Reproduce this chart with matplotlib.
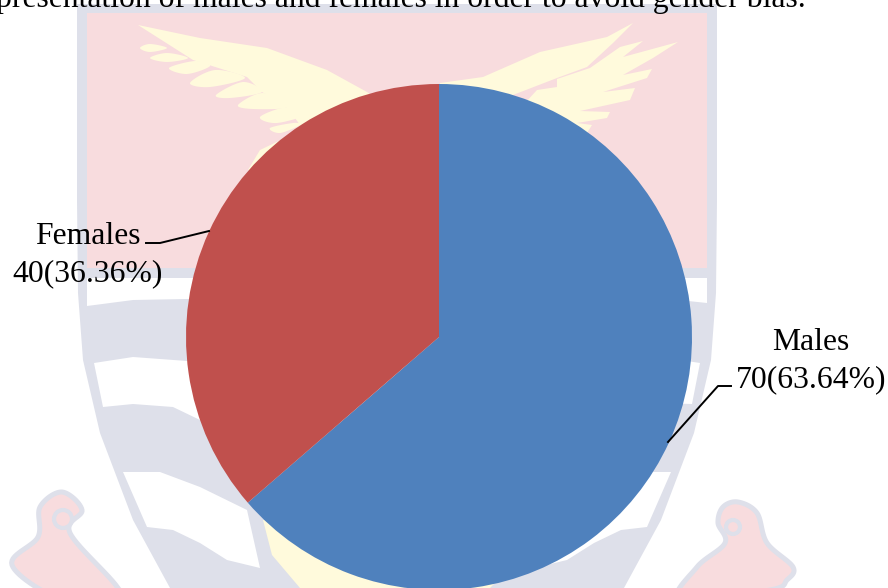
import numpy as np
import matplotlib
matplotlib.use("Agg")
import matplotlib.pyplot as plt
from matplotlib.patches import Polygon, Rectangle, Circle

categories = ["Males", "Females"]
values = [70, 40]
labels = ["70(63.64%)", "40(36.36%)"]
colors = ["#4F81BD", "#C0504D"]
caption = "presentation of males and females in order to avoid gender bias."

W, H = 888, 588
GRAY, PINK, CREAM = "#DEE0EA", "#F8DCDE", "#FFFADC"
CX = 397


def smooth(pts, closed=True, n=14):
    """Catmull-Rom sampling of a decorative outline."""
    p = np.array(pts, float)
    if closed:
        p = np.vstack([p[-1], p, p[0], p[1]])
    else:
        p = np.vstack([p[0], p, p[-1]])
    out = []
    for i in range(1, len(p) - 2):
        t = np.linspace(0, 1, n, endpoint=False)[:, None]
        a, b, c, d = p[i-1], p[i], p[i+1], p[i+2]
        out.append(0.5 * (2*b + (c-a)*t + (2*a-5*b+4*c-d)*t**2 + (3*b-a-3*c+d)*t**3))
    return np.vstack(out)


def mirror(pts):
    return [(2*CX - x, y) for x, y in pts]


fig = plt.figure(figsize=(W/100, H/100), dpi=100, facecolor="white")
bg = fig.add_axes([0, 0, 1, 1])
bg.set_xlim(0, W); bg.set_ylim(H, 0); bg.axis("off")

# watermark: shield
left_edge = [(77, 4), (77, 200), (78, 293), (83, 360), (100, 433), (133, 520), (170, 588)]
shield = list(left_edge) + mirror(left_edge)[::-1]
bg.add_patch(Polygon(shield, closed=True, fc=GRAY, ec="none"))
bg.add_patch(Rectangle((87, 13), 620, 255, fc=PINK, ec="none"))

# watermark: white bands of the shield
bg.add_patch(Polygon([(87, 278), (707, 278), (707, 303), (660, 298), (397, 295),
                      (133, 300), (87, 306)], closed=True, fc="white", ec="none"))
bg.add_patch(Polygon([(94, 363), (133, 357), (187, 361), (397, 365), (607, 361), (661, 357),
                      (700, 363), (692, 404), (660, 403), (594, 420), (397, 425), (200, 420),
                      (173, 407), (133, 404), (103, 407)], closed=True, fc="white", ec="none"))
band3 = [(123, 472), (160, 472), (200, 487), (247, 510), (260, 568), (227, 560),
         (200, 543), (173, 530), (147, 527)]
bg.add_patch(Polygon(band3, closed=True, fc="white", ec="none"))
bg.add_patch(Polygon(mirror(band3), closed=True, fc="white", ec="none"))

# watermark: yellow centre piece
bg.add_patch(Polygon([(263, 520), (272, 555), (300, 588), (490, 588), (522, 555), (531, 520)],
                     closed=True, fc=CREAM, ec="none"))

# watermark: wings
left_wing = [(138, 25), (200, 38), (267, 48), (327, 70), (367, 92), (420, 130), (300, 170),
             (248, 170), (260, 150), (287, 137), (300, 125), (287, 107), (262, 92),
             (247, 77), (193, 60)]
bg.add_patch(Polygon(left_wing, closed=True, fc=CREAM, ec="none"))
feathers = [
    [(140, 48), (150, 44), (167, 48), (150, 52)],
    [(150, 58), (167, 53), (188, 58), (167, 62)],
    [(169, 68), (195, 61), (210, 66), (187, 74)],
    [(190, 83), (215, 70), (245, 78), (210, 87)],
    [(216, 95), (243, 82), (262, 92), (230, 98)],
    [(238, 105), (263, 93), (287, 107), (253, 109)],
    [(260, 117), (287, 107), (310, 113), (277, 123)],
    [(270, 128), (293, 123), (300, 125), (280, 133)],
]
for f in feathers:
    bg.add_patch(Polygon(smooth(f), closed=True, fc=CREAM, ec="none"))
right_upper = [(440, 83), (483, 77), (540, 52), (607, 37), (633, 23), (613, 43), (587, 67),
               (557, 78), (500, 100), (440, 110)]
right_lower = [(537, 90), (557, 87), (557, 79), (590, 68), (620, 47), (643, 41), (623, 57),
               (678, 42), (653, 58), (623, 75), (652, 69), (647, 78), (603, 92), (635, 88),
               (630, 100), (580, 111), (610, 112), (607, 118), (577, 123), (592, 125),
               (587, 133), (500, 130)]
bg.add_patch(Polygon(right_upper, closed=True, fc=CREAM, ec="none"))
bg.add_patch(Polygon(right_lower, closed=True, fc=CREAM, ec="none"))

# watermark: scrolls (they run on past the lower edge)
scroll_l = [(12, 565), (38, 537), (40, 507), (62, 492), (82, 510), (70, 533), (118, 588),
            (130, 620), (60, 600)]
scroll_r = [(718, 523), (723, 507), (738, 502), (757, 513), (767, 543), (793, 567), (787, 580),
            (770, 590), (680, 600), (697, 567), (725, 543)]
for s in (scroll_l, scroll_r):
    bg.add_patch(Polygon(smooth(s), closed=True, fc=PINK, ec=GRAY, lw=3.6))
bg.add_patch(Circle((63, 519), 9, fc=PINK, ec=GRAY, lw=3))
bg.add_patch(Circle((733, 527), 7, fc=PINK, ec=GRAY, lw=3))

# pie: centre (439, 337), radius 253 px
cx, cy, r = 439, 337, 253
ax = fig.add_axes([(cx-r)/W, 1-(cy+r)/H, 2*r/W, 2*r/H])
ax.pie(values, colors=colors, startangle=90, counterclock=False, radius=1,
       wedgeprops=dict(linewidth=0))
ax.set_xlim(-1, 1); ax.set_ylim(-1, 1)
ax.set_aspect("equal"); ax.axis("off")
ax.patch.set_alpha(0)

font = dict(family="Liberation Serif", fontsize=22.8, color="black")
ov = fig.add_axes([0, 0, 1, 1]); ov.set_xlim(0, W); ov.set_ylim(H, 0); ov.axis("off")
ov.patch.set_alpha(0)
ov.text(811, 350, categories[0], ha="center", va="baseline", **font)
ov.text(811, 387, labels[0], ha="center", va="baseline", **font)
ov.text(88, 244, categories[1], ha="center", va="baseline", **font)
ov.text(88, 281, labels[1], ha="center", va="baseline", **font)
ov.plot([668, 718, 731], [442, 386, 386], color="black", lw=1.4)
ov.plot([146, 160, 209], [243, 243, 231], color="black", lw=1.4)
ov.text(806, 7, caption, ha="right", va="baseline", **font)

fig.savefig("out.png", dpi=100, facecolor="white")
